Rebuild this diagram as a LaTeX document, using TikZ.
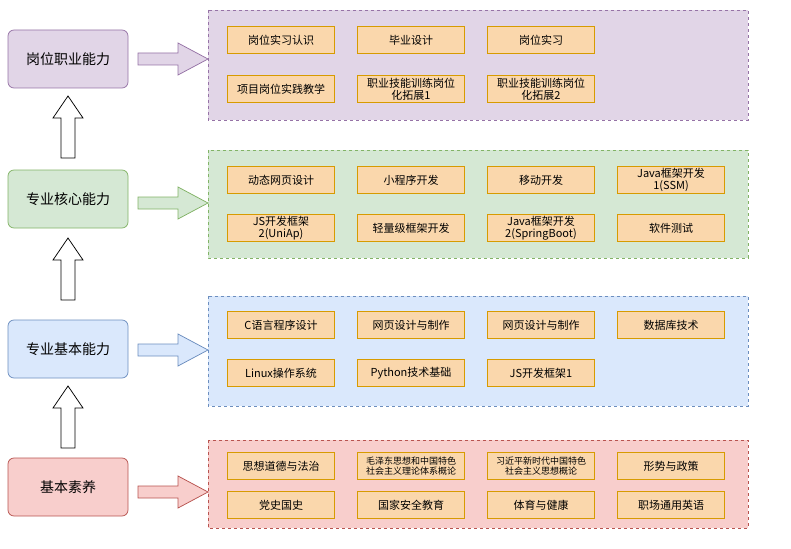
\documentclass[tikz,border=0pt]{standalone}
\usepackage{fontspec}
\setmainfont{Noto Sans CJK SC}
\usetikzlibrary{positioning}
\definecolor{pfill}{HTML}{E1D5E7}\definecolor{pline}{HTML}{9673A6}
\definecolor{gfill}{HTML}{D5E8D4}\definecolor{gline}{HTML}{82B366}
\definecolor{bfill}{HTML}{DAE8FC}\definecolor{bline}{HTML}{6C8EBF}
\definecolor{rfill}{HTML}{F8CECC}\definecolor{rline}{HTML}{B85450}
\definecolor{ofill}{HTML}{FAD7AC}\definecolor{oline}{HTML}{D79B00}
\tikzset{every picture/.style={line width=0.75pt}}
\tikzset{
  lvl/.style={draw=#1line,fill=#1fill,rounded corners=6pt,minimum width=120pt,minimum height=58pt,font=\fontsize{14}{16}\selectfont},
  panel/.style={draw=#1line,fill=#1fill,dashed},
  item/.style={draw=oline,fill=ofill,minimum width=107pt,minimum height=27pt,inner sep=1pt,align=center,font=\fontsize{11}{12}\selectfont},
  sitem/.style={item,font=\fontsize{9}{10}\selectfont},
  harrow/.style={draw=#1line,fill=#1fill}
}
% hollow arrows
\newcommand{\uparr}[2]{\draw (#1-7,#2) -- (#1+7,#2) -- (#1+7,#2-40) -- (#1+15,#2-40) -- (#1,#2-62) -- (#1-15,#2-40) -- (#1-7,#2-40) -- cycle;}
\newcommand{\rtarr}[3]{\draw[harrow=#3] (138,#2-6) -- (178,#2-6) -- (178,#2-16) -- (208,#2) -- (178,#2+16) -- (178,#2+6) -- (138,#2+6) -- cycle;}
\begin{document}
\begin{tikzpicture}[x=1pt,y=-1pt]
\useasboundingbox (0,0) rectangle (791,548);

% panels
\draw[panel=p] (208,10) rectangle (748,120);
\draw[panel=g] (208,150) rectangle (748,258);
\draw[panel=b] (208,296) rectangle (748,406);
\draw[panel=r] (208,440) rectangle (748,528);

% levels
\node[lvl=p] (gwzy) at (68,59) {岗位职业能力};
\node[lvl=g] (zyhx) at (68,199) {专业核心能力};
\node[lvl=b] (zyjb) at (68,349) {专业基本能力};
\node[lvl=r] (jbsy) at (68,487) {基本素养};

\uparr{68}{158}
\uparr{68}{300}
\uparr{68}{448}

\rtarr{p}{59}{p}
\rtarr{g}{203}{g}
\rtarr{b}{350}{b}
\rtarr{r}{492}{r}

% purple
\node[item] (p1) at (281,40) {岗位实习认识};
\node[item] (p2) at (411,40) {毕业设计};
\node[item] (p3) at (541,40) {岗位实习};
\node[item] (p4) at (281,89) {项目岗位实践教学};
\node[item] (p5) at (411,89) {职业技能训练岗位\\化拓展1};
\node[item] (p6) at (541,89) {职业技能训练岗位\\化拓展2};
% green
\node[item] (g1) at (281,180) {动态网页设计};
\node[item] (g2) at (411,180) {小程序开发};
\node[item] (g3) at (541,180) {移动开发};
\node[item] (g4) at (671,180) {Java框架开发\\1(SSM)};
\node[item] (g5) at (281,228) {JS开发框架\\2(UniAp)};
\node[item] (g6) at (411,228) {轻量级框架开发};
\node[item] (g7) at (541,228) {Java框架开发\\2(SpringBoot)};
\node[item] (g8) at (671,228) {软件测试};
% blue
\node[item] (b1) at (281,325) {C语言程序设计};
\node[item] (b2) at (411,325) {网页设计与制作};
\node[item] (b3) at (541,325) {网页设计与制作};
\node[item] (b4) at (671,325) {数据库技术};
\node[item] (b5) at (281,373) {Linux操作系统};
\node[item] (b6) at (411,373) {Python技术基础};
\node[item] (b7) at (541,373) {JS开发框架1};
% red
\node[item] (r1) at (281,466) {思想道德与法治};
\node[sitem] (r2) at (411,466) {毛泽东思想和中国特色\\社会主义理论体系概论};
\node[sitem] (r3) at (541,466) {习近平新时代中国特色\\社会主义思想概论};
\node[item] (r4) at (671,466) {形势与政策};
\node[item] (r5) at (281,505) {党史国史};
\node[item] (r6) at (411,505) {国家安全教育};
\node[item] (r7) at (541,505) {体育与健康};
\node[item] (r8) at (671,505) {职场通用英语};
\end{tikzpicture}
\end{document}
